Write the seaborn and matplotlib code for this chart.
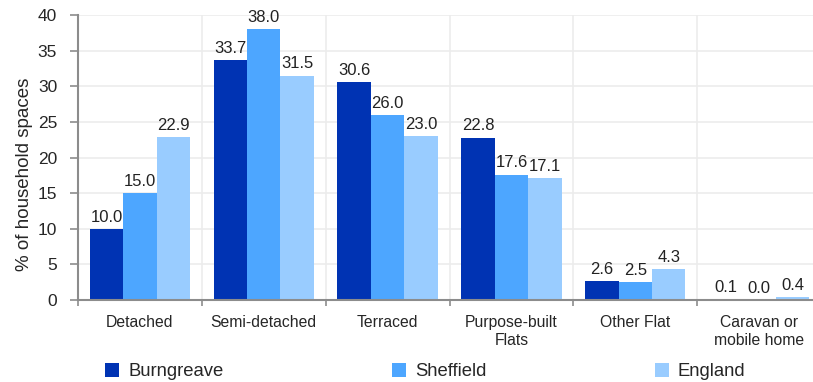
import pandas as pd
import seaborn as sns
import matplotlib.pyplot as plt
from matplotlib.ticker import MultipleLocator, FixedLocator

# data
categories = ['Detached', 'Semi-detached', 'Terraced', 'Purpose-built\nFlats',
              'Other Flat', 'Caravan or\nmobile home']
areas = ['Burngreave', 'Sheffield', 'England']
burngreave = [10.0, 33.7, 30.6, 22.8, 2.6, 0.1]
sheffield = [15.0, 38.0, 26.0, 17.6, 2.5, 0.0]
england = [22.9, 31.5, 23.0, 17.1, 4.3, 0.4]

colours = ['#0033b3', '#4da6ff', '#99ccff']


def build_frame():
    rows = []
    for area, vals in zip(areas, [burngreave, sheffield, england]):
        for cat, v in zip(categories, vals):
            rows.append({'category': cat, 'area': area, 'value': v})
    return pd.DataFrame(rows)


def main():
    data = build_frame()
    sns.set_style('white')
    plt.rcParams['font.family'] = ['Liberation Sans', 'DejaVu Sans']

    fig = plt.figure(figsize=(8.13, 3.82), dpi=100)
    ax = fig.add_axes([78 / 813, 82 / 382, 743 / 813, 285 / 382])
    sns.barplot(data=data, x='category', y='value', hue='area',
                palette=colours, width=0.81, saturation=1, ax=ax,
                legend=True, gap=0, linewidth=0)

    for cont in ax.containers:
        ax.bar_label(cont, fmt='%.1f', padding=3, fontsize=12,
                     color='#222222')

    ax.set_xlim(-0.5, len(categories) - 0.5)
    ax.set_ylim(0, 40)
    ax.yaxis.set_major_locator(MultipleLocator(5))
    ax.xaxis.set_minor_locator(FixedLocator([i - 0.5 for i in range(len(categories) + 1)]))
    ax.grid(axis='y', which='major', color='#ececec', linewidth=1.2)
    ax.grid(axis='x', which='minor', color='#ececec', linewidth=1.2)
    ax.set_axisbelow(True)

    for side in ['top', 'right']:
        ax.spines[side].set_visible(False)
    for side in ['left', 'bottom']:
        ax.spines[side].set_color('#8c8c8c')
        ax.spines[side].set_linewidth(1.5)

    ax.tick_params(axis='x', which='major', length=0, pad=11, labelsize=11.3)
    ax.tick_params(axis='x', which='minor', length=4, width=1.2,
                   color='#8c8c8c', direction='out', bottom=True)
    ax.tick_params(axis='y', length=6, width=1.2, color='#8c8c8c',
                   direction='out', left=True, labelsize=12.5, pad=9)

    ax.set_xlabel('')
    ax.set_ylabel('% of household spaces', fontsize=13.5)
    ax.yaxis.set_label_coords(-0.060, 0.44)

    handles, labels = ax.get_legend_handles_labels()
    ax.get_legend().remove()
    fig.legend(handles, labels, loc='lower left', ncol=3, mode='expand',
               bbox_to_anchor=(98 / 813, -0.015, 655 / 813, 0.06),
               frameon=False, fontsize=13.3, handlelength=0.75,
               handleheight=0.75, handletextpad=0.5, borderaxespad=0.0)

    fig.savefig('out.png', dpi=100)


if __name__ == '__main__':
    main()
